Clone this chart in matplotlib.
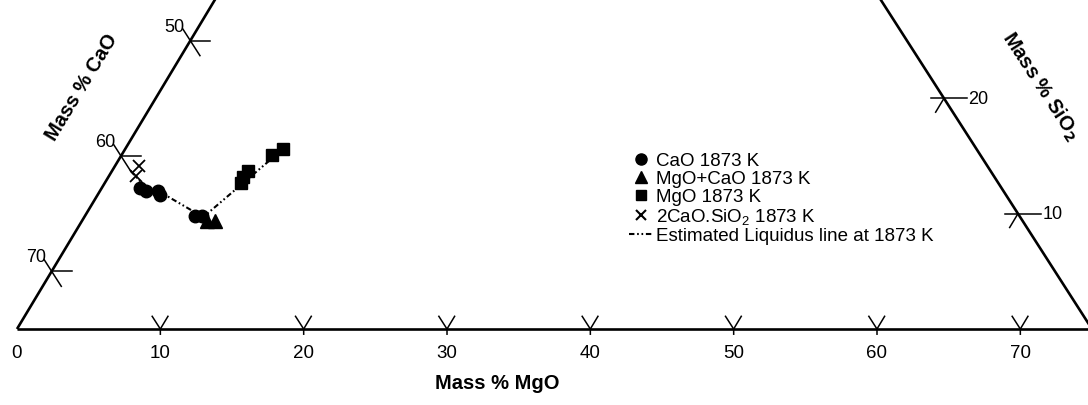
import matplotlib
matplotlib.use("Agg")
import matplotlib.pyplot as plt
from matplotlib.lines import Line2D

plt.rcParams["font.family"] = ["Liberation Sans", "DejaVu Sans"]
plt.rcParams["mathtext.default"] = "regular"

# Pseudo-ternary CaO-MgO-SiO2, components sum to 75 mass %
TOTAL = 75.0
# skew of the drawn triangle (top vertex offset / height, from the picture)
K = 0.4837
H = 0.8047

# data as (MgO, SiO2) mass %, CaO = 75 - MgO - SiO2
cao_mgo = [2.7, 3.2, 4.0, 4.4, 7.7, 8.2]
cao_sio2 = [12.2, 12.0, 12.0, 11.6, 9.8, 9.8]

mix_mgo = [8.7, 9.3]
mix_sio2 = [9.4, 9.4]

mgo_mgo = [9.5, 9.4, 9.5, 10.5, 11.0]
mgo_sio2 = [12.7, 13.2, 13.7, 15.1, 15.6]

c2s_mgo = [1.7, 1.9]
c2s_sio2 = [14.1, 13.3]

liq_mgo = [1.3, 2.9, 4.2, 8.3, 11.1]
liq_sio2 = [13.7, 12.4, 11.9, 9.7, 15.8]

mgo_ticks = [10, 20, 30, 40, 50, 60, 70]
mgo_labels = [0, 10, 20, 30, 40, 50, 60, 70]
cao_ticks = [50, 60, 70]
sio2_ticks = [10, 20]


def xy(m, s):
    m = list(m) if hasattr(m, "__iter__") else [m]
    s = list(s) if hasattr(s, "__iter__") else [s]
    xs = [mi + K * si for mi, si in zip(m, s)]
    ys = [H * si for si in s]
    return xs, ys


fig = plt.figure(figsize=(10.88, 4.06), dpi=100)
ax = fig.add_axes([0, 0, 1, 1])
ax.set_xlim(-17 / 14.333, (1088 - 17) / 14.333)
ax.set_ylim((330 - 406) / 14.333, 330 / 14.333)
ax.axis("off")

edge = dict(color="black", lw=1.9, solid_capstyle="butt")
tick = dict(color="black", lw=1.1)

# triangle edges
x, y = xy([0, TOTAL], [0, 0])
ax.plot(x, y, **edge)
x, y = xy([0, 0], [0, TOTAL])
ax.plot(x, y, **edge)
x, y = xy([TOTAL, 0], [0, TOTAL])
ax.plot(x, y, **edge)

# bottom ticks (MgO)
for m in mgo_ticks:
    x, y = xy([m - 1.1, m], [1.1, 0])
    ax.plot(x, y, **tick)
    x, y = xy([m, m], [0, 1.1])
    ax.plot(x, y, **tick)
    x, y = xy([m, m + 0.22], [0, -0.45])
    ax.plot(x, y, **tick)
for m in mgo_labels:
    x, y = xy(m, 0)
    ax.text(x[0], y[0] - 1.05, str(m), ha="center", va="top", fontsize=13.5)

# left ticks (CaO)
for c in cao_ticks:
    s = TOTAL - c
    x, y = xy([-1.0, 1.3], [s + 1.0, s - 1.3])
    ax.plot(x, y, **tick)
    x, y = xy([0, 1.4], [s, s])
    ax.plot(x, y, **tick)
    x, y = xy(-1.0, s + 1.0)
    ax.text(x[0] + 0.1, y[0] + 0.2, str(c), ha="right", va="center", fontsize=13)

# right ticks (SiO2)
for s in sio2_ticks:
    m = TOTAL - s
    x, y = xy([m - 0.9, m + 1.6], [s, s])
    ax.plot(x, y, **tick)
    x, y = xy([m, m], [s, s - 1.2])
    ax.plot(x, y, **tick)
    x, y = xy(m + 1.6, s)
    ax.text(x[0] + 0.1, y[0], str(s), ha="left", va="center", fontsize=13)

# axis titles
ax.text(4.5, 16.9, "Mass % CaO", rotation=58.7, ha="center", va="center",
        fontsize=14.5, fontweight="bold")
ax.text(71.4, 17.0, r"Mass % SiO$_\mathbf{2}$", rotation=-57, ha="center",
        va="center", fontsize=14.5, fontweight="bold")
ax.text(33.5, -3.75, "Mass % MgO", ha="center", va="center",
        fontsize=14.5, fontweight="bold")

# liquidus line and data
liq_style = (0, (2.6, 1.3, 0.8, 1.3, 0.8, 1.3))
x, y = xy(liq_mgo, liq_sio2)
ax.plot(x, y, color="black", lw=1.5, linestyle=liq_style, zorder=2)

x, y = xy(cao_mgo, cao_sio2)
ax.plot(x, y, "o", color="black", ms=9, zorder=3)
x, y = xy(mix_mgo, mix_sio2)
ax.plot(x, y, "^", color="black", ms=10, zorder=3)
x, y = xy(mgo_mgo, mgo_sio2)
ax.plot(x, y, "s", color="black", ms=8, zorder=3)
x, y = xy(c2s_mgo, c2s_sio2)
ax.plot(x, y, "x", color="black", ms=8, mew=1.3, zorder=4)

handles = [
    Line2D([], [], marker="o", color="black", ls="none", ms=8),
    Line2D([], [], marker="^", color="black", ls="none", ms=8),
    Line2D([], [], marker="s", color="black", ls="none", ms=7),
    Line2D([], [], marker="x", color="black", ls="none", ms=7, mew=1.5),
    Line2D([], [], color="black", lw=1.5, linestyle=liq_style),
]
labels = [
    "CaO 1873 K",
    "MgO+CaO 1873 K",
    "MgO 1873 K",
    r"2CaO.SiO$_2$ 1873 K",
    "Estimated Liquidus line at 1873 K",
]
ax.legend(handles, labels, loc="upper left", bbox_to_anchor=(629 / 1088, 1 - 153 / 406),
          frameon=False, fontsize=13.5, handlelength=1.25, handletextpad=0.2,
          labelspacing=0.05, borderpad=0, borderaxespad=0)

fig.savefig("out.png", dpi=100)
